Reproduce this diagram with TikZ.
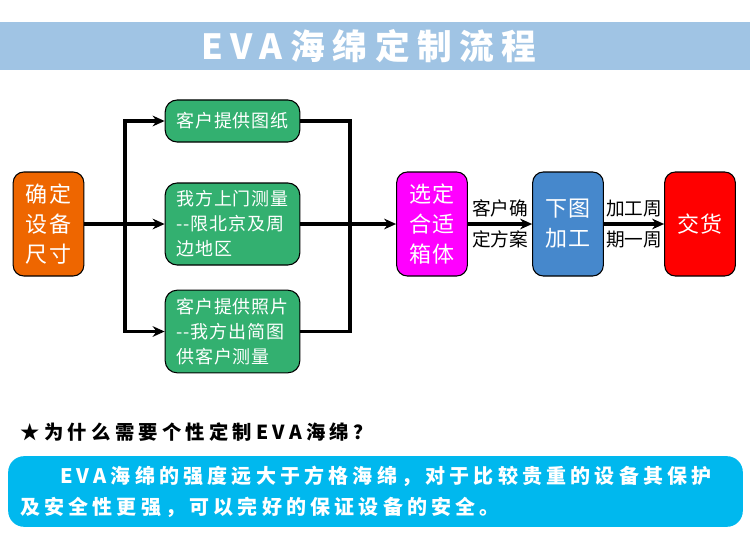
\documentclass[tikz,border=0pt]{standalone}
\usepackage{fontspec}
\setmainfont{Noto Sans CJK SC}
\usetikzlibrary{arrows.meta}
\definecolor{bandblue}{RGB}{160,196,228}
\definecolor{sizeorange}{RGB}{238,102,0}
\definecolor{boxgreen}{RGB}{51,176,112}
\definecolor{selectpink}{RGB}{255,0,255}
\definecolor{cutblue}{RGB}{70,136,204}
\definecolor{notecyan}{RGB}{0,184,238}

\begin{document}
\begin{tikzpicture}[x=0.75pt,y=-0.75pt,
  bigbox/.style={draw=black,line width=0.8pt,rounded corners=8pt,minimum width=53pt,minimum height=78pt,inner sep=0pt,text=white,align=center,font=\fontsize{16.5}{22.5}\selectfont\addfontfeature{LetterSpace=9}},
  greenbox/.style={draw=black,line width=0.8pt,rounded corners=9pt,fill=boxgreen,minimum width=101pt,inner sep=0pt,text=white,align=left,font=\fontsize{13.5}{18.75}\selectfont\addfontfeature{LetterSpace=5}},
  flow/.style={line width=2.3pt,-{Stealth[length=9pt,width=8pt]}},
  link/.style={line width=2.3pt},
  armlabel/.style={font=\fontsize{14}{16}\selectfont,inner sep=1pt}]
  \useasboundingbox (0,0) rectangle (750,542);
  % title band
  \fill[bandblue] (0,22) rectangle (750,70);
  \node[text=white,font=\fontsize{26}{30}\selectfont\bfseries\addfontfeature{LetterSpace=22}] (title) at (369,46) {EVA海绵定制流程};
  % process boxes
  \node[bigbox,fill=sizeorange] (size) at (48.5,224) {确定\\设备\\尺寸};
  \node[greenbox,minimum height=31.5pt] (drawing) at (232.5,121) {客户提供图纸};
  \node[greenbox,minimum height=61.5pt] (visit) at (232.5,224) {我方上门测量\\-{}-限北京及周\\边地区};
  \node[greenbox,minimum height=62pt] (photo) at (232.5,331.5) {客户提供照片\\-{}-我方出简图\\供客户测量};
  \node[bigbox,fill=selectpink] (select) at (432,224) {选定\\合适\\箱体};
  \node[bigbox,fill=cutblue] (cut) at (568,224) {下图\\加工};
  \node[bigbox,fill=red] (deliver) at (700,224) {交货};
  \coordinate (fork) at (125,224);
  \coordinate (join) at (350,224);
  % connectors
  \draw[flow] (size) -- (visit);
  \draw[flow] (fork) |- (drawing.west);
  \draw[flow] (fork) |- (photo.west);
  \draw[link] (drawing.east) -| (join) |- (photo.east);
  \draw[flow] (visit.east) -- (select.west);
  \draw[flow] (select) -- (cut) node[midway,armlabel,above=3pt]{客户确} node[midway,armlabel,below=3pt]{定方案};
  \draw[flow] (cut) -- (deliver) node[midway,armlabel,above=3pt]{加工周} node[midway,armlabel,below=3pt]{期一周};
  % note
  \node[anchor=west,font=\fontsize{14.5}{17}\selectfont\bfseries\addfontfeature{LetterSpace=22}] (question) at (16,432) {★为什么需要个性定制EVA海绵？};
  \node[fill=notecyan,rounded corners=12pt,minimum width=551pt,minimum height=53pt,inner xsep=9pt,text width=533pt,align=left,text=white,font=\fontsize{15}{23.25}\selectfont\bfseries\addfontfeature{LetterSpace=21}] (note) at (375.5,491.5) {\hspace*{2em}EVA海绵的强度远大于方格海绵，对于比较贵重的设备其保护\\及安全性更强，可以完好的保证设备的安全。};
\end{tikzpicture}
\end{document}
